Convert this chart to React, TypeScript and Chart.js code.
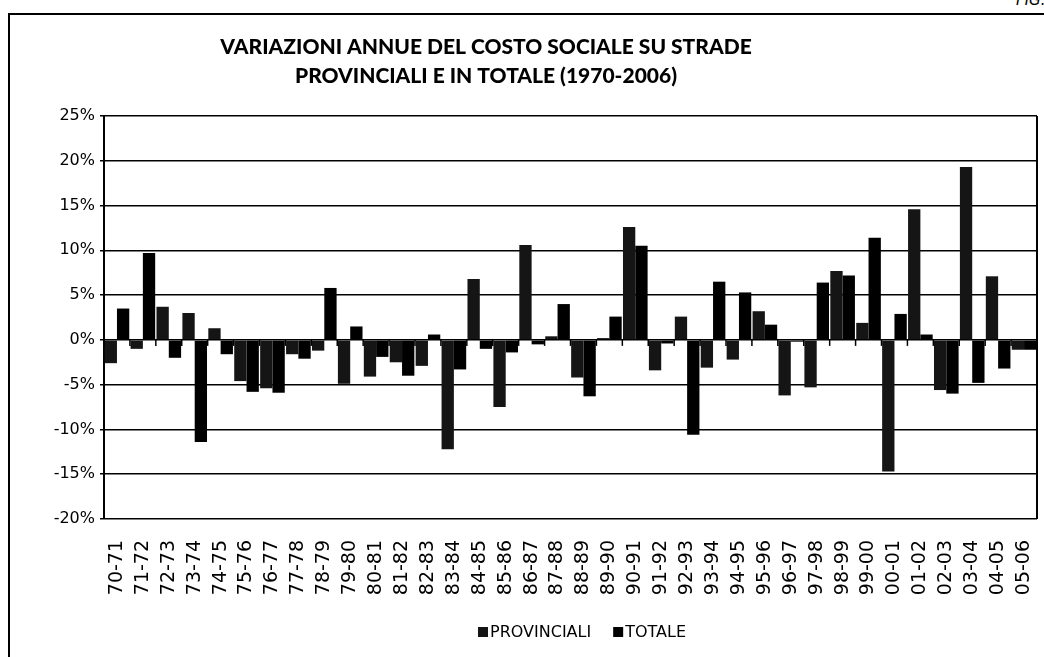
import React, { useEffect, useRef } from 'react';
import { Chart, registerables } from 'chart.js';

Chart.register(...registerables);

const categories = [
  '70-71', '71-72', '72-73', '73-74', '74-75', '75-76', '76-77', '77-78', '78-79', '79-80',
  '80-81', '81-82', '82-83', '83-84', '84-85', '85-86', '86-87', '87-88', '88-89', '89-90',
  '90-91', '91-92', '92-93', '93-94', '94-95', '95-96', '96-97', '97-98', '98-99', '99-00',
  '00-01', '01-02', '02-03', '03-04', '04-05', '05-06',
];

const provinciali = [
  -2.6, -1.0, 3.7, 3.0, 1.3, -4.6, -5.4, -1.6, -1.2, -4.9,
  -4.1, -2.5, -2.9, -12.2, 6.8, -7.5, 10.6, 0.4, -4.2, 0.2,
  12.6, -3.4, 2.6, -3.1, -2.2, 3.2, -6.2, -5.3, 7.7, 1.9,
  -14.7, 14.6, -5.6, 19.3, 7.1, -1.1,
];

const totale = [
  3.5, 9.7, -2.0, -11.4, -1.6, -5.8, -5.9, -2.1, 5.8, 1.5,
  -1.9, -4.0, 0.6, -3.3, -1.0, -1.4, -0.5, 4.0, -6.3, 2.6,
  10.5, -0.4, -10.6, 6.5, 5.3, 1.7, -0.2, 6.4, 7.2, 11.4,
  2.9, 0.6, -6.0, -4.8, -3.2, -1.1,
];

const seriesNames = ['PROVINCIALI', 'TOTALE'];
const seriesColors = ['#151515', '#000000'];
const titleLines = [
  'VARIAZIONI ANNUE DEL COSTO SOCIALE SU STRADE',
  'PROVINCIALI E IN TOTALE (1970-2006)',
];
const yMin = -20;
const yMax = 25;
const yStep = 5;

// Plot frame, zero-line category ticks, title and legend
const decorations = {
  id: 'decorations',
  afterDatasetsDraw(chart: any) {
    const { ctx, chartArea, scales } = chart;
    const xs = scales.x;
    const ys = scales.y;
    ctx.save();
    ctx.strokeStyle = '#000';
    ctx.lineWidth = 2;
    ctx.beginPath();
    ctx.moveTo(chartArea.right, chartArea.top);
    ctx.lineTo(chartArea.right, chartArea.bottom);
    ctx.stroke();
    const y0 = ys.getPixelForValue(0);
    const step = xs.getPixelForValue(1) - xs.getPixelForValue(0);
    ctx.lineWidth = 1.5;
    for (let i = 0; i <= categories.length; i++) {
      const px = xs.getPixelForValue(i) - step / 2;
      ctx.beginPath();
      ctx.moveTo(px, y0);
      ctx.lineTo(px, y0 + 6);
      ctx.stroke();
    }
    ctx.restore();
  },
  afterDraw(chart: any) {
    const { ctx } = chart;
    ctx.save();
    // title
    ctx.fillStyle = '#000';
    ctx.font = '900 21px Lato';
    ctx.textAlign = 'center';
    ctx.textBaseline = 'middle';
    ctx.fillText(titleLines[0], 486, 47);
    ctx.fillText(titleLines[1], 486, 76);
    // legend
    ctx.font = '16px "DejaVu Sans"';
    ctx.textAlign = 'left';
    const legendY = 632;
    const box = 10;
    let x = 478;
    chart.data.datasets.forEach((ds: any) => {
      ctx.fillStyle = ds.backgroundColor;
      ctx.fillRect(x, legendY - box / 2, box, box);
      ctx.fillStyle = '#000';
      ctx.fillText(ds.label, x + box + 2, legendY + 1);
      x += box + 2 + ctx.measureText(ds.label).width + 22;
    });
    ctx.restore();
  },
};

export default function App() {
  const canvasRef = useRef<HTMLCanvasElement | null>(null);

  useEffect(() => {
    const canvas = canvasRef.current;
    if (!canvas) return;
    const chart = new Chart(canvas, {
      type: 'bar',
      data: {
        labels: categories,
        datasets: [
          {
            label: seriesNames[0],
            data: provinciali,
            backgroundColor: seriesColors[0],
            borderWidth: 0,
            categoryPercentage: 0.95,
            barPercentage: 1.0,
          },
          {
            label: seriesNames[1],
            data: totale,
            backgroundColor: seriesColors[1],
            borderWidth: 0,
            categoryPercentage: 0.95,
            barPercentage: 1.0,
          },
        ],
      },
      options: {
        responsive: false,
        animation: false,
        devicePixelRatio: 1,
        layout: { padding: { left: 0, right: 7, top: 116, bottom: 43 } },
        plugins: {
          title: { display: false },
          legend: { display: false },
          tooltip: { enabled: false },
        },
        scales: {
          x: {
            grid: { display: false, drawTicks: false },
            border: { display: false },
            ticks: {
              color: '#000',
              minRotation: 90,
              maxRotation: 90,
              autoSkip: false,
              padding: 21,
              font: { family: 'DejaVu Sans', size: 19 },
            },
            afterFit(scale: any) {
              scale.height = 95;
              scale.paddingLeft = 0;
              scale.paddingRight = 0;
            },
          },
          y: {
            min: yMin,
            max: yMax,
            ticks: {
              stepSize: yStep,
              color: '#000',
              padding: 5,
              font: { family: 'DejaVu Sans', size: 16 },
              callback: (v: any) => `${v}%`,
            },
            grid: {
              color: '#000',
              lineWidth: 1.5,
              drawTicks: true,
              tickLength: 4,
            },
            border: { display: true, color: '#000', width: 2 },
            afterFit(scale: any) {
              scale.width = 104;
              scale.paddingTop = 0;
              scale.paddingBottom = 0;
            },
          },
        },
      },
      plugins: [decorations],
    });
    return () => chart.destroy();
  }, []);

  return (
    <div style={{ position: 'fixed', left: 0, top: 0, width: 1044, height: 657, background: '#fff', overflow: 'hidden' }}>
      <div
        style={{
          position: 'absolute', left: 8, top: 13, width: 1100, height: 700,
          borderTop: '2px solid #000', borderLeft: '2px solid #000', pointerEvents: 'none',
        }}
      />
      <div
        style={{
          position: 'absolute', left: 1016, top: -9, fontFamily: 'DejaVu Sans', fontStyle: 'italic',
          fontSize: 15, color: '#000', whiteSpace: 'nowrap',
        }}
      >
        FIG. 4
      </div>
      <canvas ref={canvasRef} width={1044} height={657} style={{ position: 'absolute', left: 0, top: 0 }} />
    </div>
  );
}
